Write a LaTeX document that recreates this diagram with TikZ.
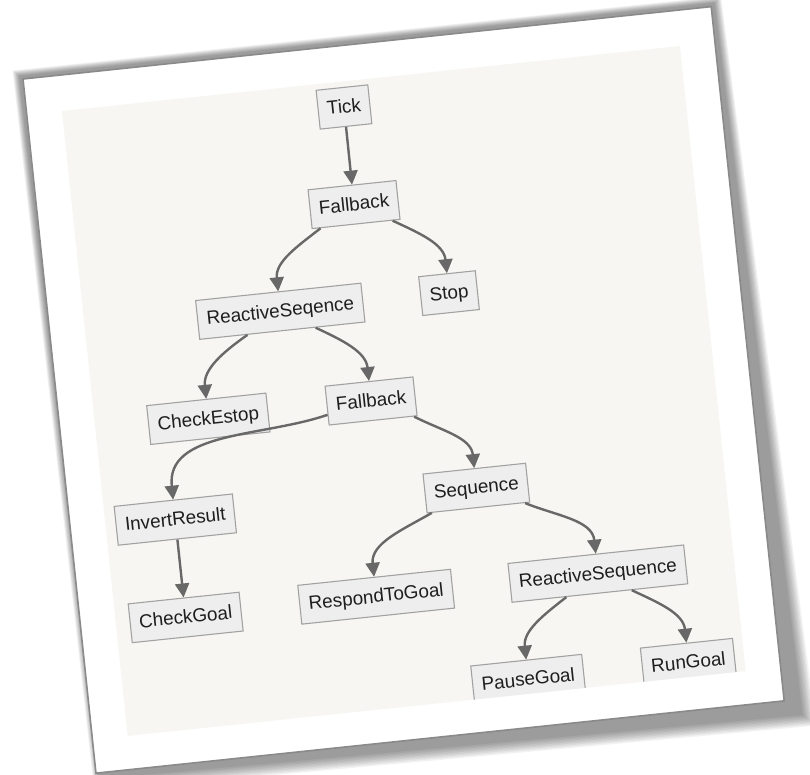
\documentclass[tikz,border=0pt]{standalone}
\usepackage{fontspec}
\setmainfont{Liberation Sans}
\usetikzlibrary{arrows.meta,calc}
\definecolor{paperedge}{RGB}{138,138,138}
\definecolor{canvasbg}{RGB}{247,246,242}
\definecolor{boxfill}{RGB}{238,238,238}
\definecolor{boxline}{RGB}{162,162,162}
\definecolor{edgec}{RGB}{104,104,104}
\definecolor{labelc}{RGB}{30,30,30}
\begin{document}
\begin{tikzpicture}[x=1pt,y=1pt,
  box/.style={draw=boxline, fill=boxfill, line width=1.1pt, inner xsep=9pt, inner ysep=0pt,
    minimum height=39pt, text height=13.5pt, text depth=1.5pt, text=labelc,
    font=\fontsize{18.9}{22}\selectfont},
  edge/.style={draw=edgec, line width=2.4pt, -{Triangle[length=14pt,width=14pt]}},
]
\useasboundingbox (0,0) rectangle (810,775);
\fill[white] (0,0) rectangle (810,775);
% the sheet, tilted on the page
\begin{scope}[shift={(23,696)}, rotate=6, transform shape]
  % soft drop shadow, heavier towards the lower right corner
  \foreach \e in {13,11.5,...,0} {
    \fill[black, opacity=0.05]
      (-3-\e*0.5, 3+\e*0.5) -- (695+\e*0.6, 3+\e*0.5) -- (708+\e, -713-\e)
      -- (3-\e*0.5, -703-\e) -- cycle;
  }
  \filldraw[fill=white, draw=paperedge, line width=1.6pt] (0,0) rectangle (692,-698);
  \fill[canvasbg] (35.4,-35.9) rectangle (656.8,-664.3);

  \begin{scope}
    \clip (35.4,-35.9) rectangle (656.8,-664.3);
    % behaviour tree nodes
    \node[box] (tick) at (316.3,-61.4)  {Tick};
    \node[box] (fb1)  at (316.1,-159.5) {Fallback};
    \node[box] (rs1)  at (231.6,-257.9) {ReactiveSeqence};
    \node[box] (stop) at (401.3,-257.5) {Stop};
    \node[box] (ce)   at (148.8,-357.3) {CheckEstop};
    \node[box] (fb2)  at (312.5,-356.6) {Fallback};
    \node[box] (ir)   at (105.4,-454.1) {InvertResult};
    \node[box] (seq)  at (408.1,-454.2) {Sequence};
    \node[box] (cg)   at (105.5,-552.5) {CheckGoal};
    \node[box] (rtg)  at (297.1,-551.8) {RespondToGoal};
    \node[box] (rs2)  at (520.0,-552.0) {ReactiveSequence};
    \node[box] (pg)   at (439.7,-650.1) {PauseGoal};
    \node[box] (rg)   at (600.8,-650.0) {RunGoal};

    % connectors
    \draw[edge] (tick) -- (fb1);
    \draw[edge] ($(fb1.south west)!0.10!(fb1.south east)$) to[out=212,in=90] (rs1.north);
    \draw[edge] ($(fb1.south west)!0.91!(fb1.south east)$) to[out=-31,in=90] (stop.north);
    \draw[edge] ($(rs1.south west)!0.29!(rs1.south east)$) to[out=209,in=90] (ce.north);
    \draw[edge] ($(rs1.south west)!0.70!(rs1.south east)$) to[out=-31,in=90] (fb2.north);
    \draw[edge] ($(fb2.west)!0.46!(fb2.south west)$) to[out=193,in=90] (ir.north);
    \draw[edge] ($(fb2.south west)!0.96!(fb2.south east)$) to[out=-33,in=90] (seq.north);
    \draw[edge] (ir) -- (cg);
    \draw[edge] ($(seq.south west)!0.05!(seq.south east)$) to[out=204,in=90] (rtg.north);
    \draw[edge] ($(seq.south west)!0.95!(seq.south east)$) to[out=-28,in=90] (rs2.north);
    \draw[edge] ($(rs2.south west)!0.31!(rs2.south east)$) to[out=212,in=90] (pg.north);
    \draw[edge] ($(rs2.south west)!0.68!(rs2.south east)$) to[out=-31,in=90] (rg.north);
  \end{scope}
\end{scope}
\end{tikzpicture}
\end{document}
